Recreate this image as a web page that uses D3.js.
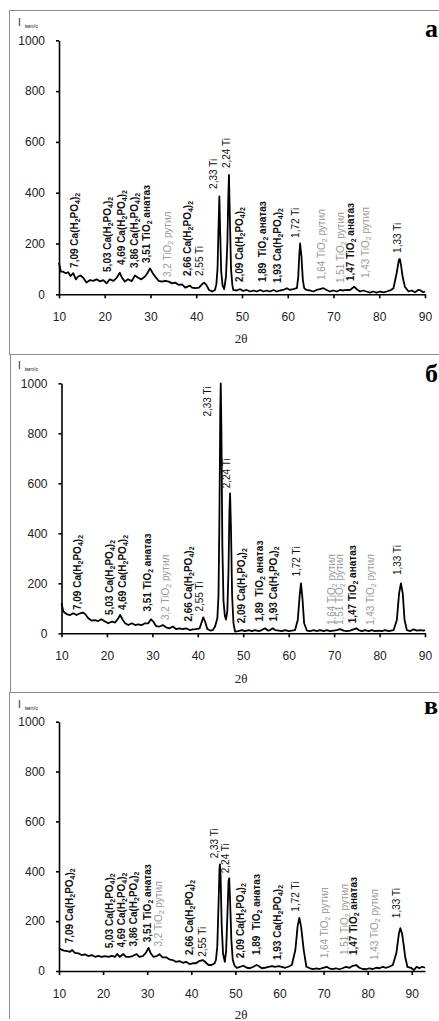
<!DOCTYPE html>
<html><head><meta charset="utf-8">
<script src="https://cdn.jsdelivr.net/npm/d3@7"></script>
<style>body{margin:0;background:#fff;} svg{display:block;}</style>
</head><body><svg id="c" width="439" height="1021"></svg>
<script>
// ---------- DATA ----------
const xTicks = [10, 20, 30, 40, 50, 60, 70, 80, 90];
const yTicks = [0, 200, 400, 600, 800, 1000];
const panelNames = ["а", "б", "в"];
const axisTitle = "2θ";
const yTitle = "I";
const yUnit = "імп/с";

// panel а
const thetaA = [10.0,10.4,10.9,11.5,12.0,12.5,13.1,13.7,14.2,14.7,15.3,16.0,16.8,17.5,18.2,19.0,19.7,20.4,21.1,21.9,22.6,23.3,23.7,24.4,25.1,25.9,26.6,27.3,28.0,28.8,29.3,29.9,30.5,31.0,31.8,32.5,33.2,34.0,34.7,35.4,36.2,36.9,37.6,38.6,39.1,39.8,40.6,41.3,41.7,42.2,42.8,43.5,44.1,44.4,44.65,44.85,45.05,45.25,45.45,45.75,46.1,46.5,46.8,47.0,47.15,47.35,47.6,47.9,48.1,48.8,49.6,50.3,51.0,51.8,52.5,53.2,54.0,54.7,55.4,56.1,56.9,57.6,58.3,59.0,59.8,60.5,61.2,62.0,62.3,62.5,62.7,63.0,63.3,63.6,64.1,64.9,65.6,66.3,67.0,67.8,68.5,69.2,70.0,70.7,71.4,72.1,72.9,73.6,74.5,75.1,75.8,76.5,77.2,78.0,78.7,79.4,80.2,80.9,81.6,82.4,83.1,83.8,84.3,84.5,84.8,85.1,85.6,86.4,87.1,87.8,88.5,89.0,89.6,90.0];
const intA = [124,89,89,83,87,72,83,59,70,74,65,46,56,53,59,51,56,43,59,53,65,85,67,50,59,52,74,65,59,70,83,102,83,70,53,50,53,50,43,46,37,39,26,34,26,24,26,40,46,37,17,11,17,40,100,250,385,230,90,35,20,70,200,380,470,300,100,35,17,15,20,13,17,11,15,11,17,11,15,11,17,11,15,17,24,17,20,24,70,148,200,148,56,24,17,15,11,17,20,24,17,11,15,11,17,15,17,17,30,20,11,15,11,7,11,7,11,8,11,15,24,83,136,139,110,70,30,11,15,8,17,15,8,11];
const labelsA = ["7,09 Ca(H_2PO_4)_2","5,03 Ca(H_2PO_4)_2","4,69 Ca(H_2PO_4)_2","3,86 Ca(H_2PO_4)_2","3,51 TiO_2 анатаз","3,2 TiO_2 рутил","2,66 Ca(H_2PO_4)_2","2,55 Ti","2,33 Ti","2,24 Ti","2,09 Ca(H_2PO_4)_2","1,89  TiO_2 анатаз","1,93 Ca(H_2PO_4)_2","1,72 Ti","1,64 TiO_2 рутил","1,51 TiO_2 рутил","1,47 TiO_2 анатаз","1,43 TiO_2 рутил","1,33 Ti"];
const labelThetaA = [14.2,21.4,24.4,27.3,29.9,34.5,38.9,41.5,44.5,47.3,50.2,55.2,58.5,62.5,68.1,72.3,74.5,77.8,84.8];
const labelIntA = [104,88,115,104,123,68,72,72,415,497,48,48,44,222,56,44,52,64,163];

// panel б
const thetaB = [10.0,10.4,11.1,11.9,12.6,13.3,14.1,14.7,15.2,15.9,16.6,17.4,18.1,18.8,19.6,20.3,21.1,21.8,22.5,22.9,23.5,24.0,24.7,25.5,26.2,26.9,27.7,28.4,29.1,29.7,30.2,30.8,31.6,32.3,33.0,33.8,34.5,35.2,36.0,36.7,37.4,38.2,38.9,39.6,40.4,40.9,41.2,41.6,42.1,42.7,43.3,43.8,44.3,44.55,44.75,44.95,45.05,45.2,45.4,45.65,45.95,46.2,46.5,46.75,46.95,47.1,47.3,47.55,47.85,48.2,48.9,49.7,50.4,51.2,51.9,52.6,53.4,54.1,54.8,55.4,55.9,56.5,57.0,57.8,58.5,59.2,60.0,60.7,61.4,62.0,62.4,62.7,63.0,63.4,64.0,64.7,65.5,66.2,66.9,67.7,68.4,69.1,69.9,70.6,71.3,72.1,72.8,73.5,74.3,74.9,75.4,76.1,76.8,77.6,78.3,79.0,79.8,80.5,81.2,82.0,83.1,83.8,84.3,84.7,85.1,85.5,86.0,86.8,87.5,88.2,89.0,89.7,90.0];
const intB = [120,87,77,73,80,73,80,83,77,60,51,53,49,56,47,40,47,43,60,73,53,40,33,40,33,36,33,40,40,56,47,29,27,33,24,20,27,17,20,17,20,13,16,17,20,47,64,47,17,11,13,27,60,150,450,900,1000,800,350,130,70,55,90,250,480,560,420,150,40,7,9,13,9,13,9,13,9,13,20,11,13,20,13,11,9,13,9,11,13,53,147,200,147,40,11,9,13,9,13,9,13,9,11,13,17,11,9,11,16,20,13,9,13,9,13,9,11,9,13,9,13,53,160,200,160,53,13,9,16,11,13,11,13];
const labelsB = ["7,09 Ca(H_2PO_4)_2","5,03 Ca(H_2PO_4)_2","4,69 Ca(H_2PO_4)_2","3,51 TiO_2 анатаз","3,2 TiO_2 рутил","2,66 Ca(H_2PO_4)_2","2,55 Ti","2,33 Ti","2,24 Ti","2,09 Ca(H_2PO_4)_2","1,89  TiO_2 анатаз","1,93 Ca(H_2PO_4)_2","1,72 Ti","1,64 TiO_2 рутил","1,51 TiO_2 рутил","1,47 TiO_2 анатаз","1,43 TiO_2 рутил","1,33 Ti"];
const labelThetaB = [14.3,21.4,24.2,29.6,33.7,38.7,41.2,42.9,47.1,50.3,54.3,57.4,62.4,70.1,71.9,74.9,78.8,84.8];
const labelIntB = [93,73,93,87,53,47,87,867,580,40,47,47,227,33,33,40,33,233];

// panel в
const thetaC = [10.0,10.4,11.1,11.9,12.5,13.0,13.6,14.4,15.1,15.9,16.6,17.4,18.2,18.9,19.7,20.4,21.2,22.0,22.7,23.2,23.8,24.6,25.2,25.9,26.7,27.6,28.2,29.0,29.7,30.3,30.8,31.4,32.2,32.8,33.5,34.3,35.0,35.8,36.5,37.3,38.1,38.8,39.6,40.3,41.1,41.8,42.6,43.1,43.9,44.6,45.3,45.6,45.9,46.2,46.4,46.5,46.65,46.9,47.2,47.6,47.9,48.2,48.45,48.6,48.8,49.1,49.4,49.8,50.3,51.1,51.8,52.6,53.3,54.1,54.8,55.2,56.0,56.7,57.5,58.3,59.0,59.8,60.5,61.3,62.0,62.8,63.6,64.1,64.5,64.9,65.5,66.1,66.9,67.6,68.4,69.1,69.9,70.7,71.3,72.0,72.8,73.6,74.3,75.1,75.9,76.6,77.4,78.1,78.9,79.7,80.4,81.2,81.9,82.7,83.4,84.2,84.9,85.7,86.5,87.1,87.4,87.8,88.2,88.5,89.0,89.8,90.5,91.1,91.7,92.4,93.0];
const intC = [91,87,82,80,77,84,73,71,64,67,60,64,57,61,57,60,57,61,57,68,57,68,57,57,60,68,57,60,73,93,71,57,60,67,55,55,47,44,37,40,33,37,28,31,31,40,44,37,24,24,31,45,100,280,410,428,380,180,70,37,80,230,360,372,280,120,45,22,13,17,21,13,11,17,24,21,11,13,17,20,17,20,17,13,17,24,84,178,213,178,84,17,11,8,11,8,13,17,11,8,11,7,11,17,13,21,24,13,8,7,11,8,13,11,17,13,17,24,71,152,172,150,100,57,17,13,4,17,11,17,13];
const labelsC = ["7,09 Ca(H_2PO_4)_2","5,03 Ca(H_2PO_4)_2","4,69 Ca(H_2PO_4)_2","3,86 Ca(H_2PO_4)_2","3,51 TiO_2 анатаз","3,2 TiO_2 рутил","2,66 Ca(H_2PO_4)_2","2,55 Ti","2,33 Ti","2,24 Ti","2,09 Ca(H_2PO_4)_2","1,89  TiO_2 анатаз","1,93 Ca(H_2PO_4)_2","1,72 Ti","1,64 TiO_2 рутил","1,51 TiO_2 рутил","1,47 TiO_2 анатаз","1,43 TiO_2 рутил","1,33 Ti"];
const labelThetaC = [13.2,22.3,25.0,27.8,30.8,33.4,40.5,43.3,46.1,48.6,52.0,55.6,60.3,64.5,71.1,75.5,77.6,82.3,87.3];
const labelIntC = [111,91,94,98,115,98,64,57,452,392,51,64,44,238,51,64,64,44,212];

// ---------- LAYOUT ----------
const panels = [
  {theta: thetaA, inten: intA, labels: labelsA, lt: labelThetaA, li: labelIntA,
   xDom: [10, 90], xR: [59, 425], yR: [294.3, 40.3], boxTop: 10, boxLeft: 9.5, boxBottom: 354,
   titleY: 343, letterY: 37, name: panelNames[0]},
  {theta: thetaB, inten: intB, labels: labelsB, lt: labelThetaB, li: labelIntB,
   xDom: [10, 90], xR: [61.5, 425], yR: [633.3, 383.3], boxTop: 354, boxLeft: 10.5, boxBottom: 692,
   titleY: 683, letterY: 382, name: panelNames[1]},
  {theta: thetaC, inten: intC, labels: labelsC, lt: labelThetaC, li: labelIntC,
   xDom: [10, 93], xR: [59, 425], yR: [971, 721.7], boxTop: 692, boxLeft: 9.5, boxBottom: 1019,
   titleY: 1019, letterY: 714, name: panelNames[2]}
];

const svg = d3.select("#c");
const SANS = "'Liberation Sans', Arial, sans-serif";
const SERIF = "'Liberation Serif', 'Times New Roman', serif";

function richText(sel, str) {
  const parts = str.split(/(_.)/).filter(s => s.length);
  let shifted = false;
  parts.forEach(p => {
    if (p[0] === "_") {
      sel.append("tspan").attr("font-size", "70%").attr("dy", shifted ? 0 : 2).text(p[1]);
      shifted = true;
    } else {
      sel.append("tspan").attr("dy", shifted ? -2 : 0).attr("xml:space","preserve").text(p);
      shifted = false;
    }
  });
}

panels.forEach(p => {
  const g = svg.append("g");
  // frame lines
  g.append("line").attr("x1", 9).attr("x2", 439).attr("y1", p.boxTop + 0.5).attr("y2", p.boxTop + 0.5)
    .attr("stroke", "#8a8a8a").attr("stroke-width", 1);
  g.append("line").attr("x1", p.boxLeft).attr("x2", p.boxLeft).attr("y1", p.boxTop).attr("y2", p.boxBottom)
    .attr("stroke", "#8a8a8a").attr("stroke-width", 1);

  const x = d3.scaleLinear().domain(p.xDom).range(p.xR);
  const y = d3.scaleLinear().domain([0, 1000]).range(p.yR);

  // axes
  const xa = g.append("g").attr("transform", `translate(0,${p.yR[0]})`)
    .call(d3.axisBottom(x).tickValues(xTicks).tickFormat(d3.format("d")).tickSize(4).tickSizeOuter(0).tickPadding(14));
  const ya = g.append("g").attr("transform", `translate(${p.xR[0]},0)`)
    .call(d3.axisLeft(y).tickValues(yTicks).tickFormat(d3.format("d")).tickSize(3).tickSizeOuter(0).tickPadding(11));
  [xa, ya].forEach(a => {
    a.selectAll("path, line").attr("stroke", "#000").attr("stroke-width", 1.6);
    a.selectAll("text").attr("font-family", SANS).attr("font-size", 12).attr("fill", "#222");
  });

  // curve
  const pts = p.theta.map((t, i) => [t, p.inten[i]]);
  g.append("path").datum(pts)
    .attr("d", d3.line().x(d => x(d[0])).y(d => y(d[1])))
    .attr("fill", "none").attr("stroke", "#000").attr("stroke-width", 1.8).attr("stroke-linejoin", "round");

  // peak labels
  p.labels.forEach((s, i) => {
    const rutile = s.includes("рутил");
    const tiOnly = / Ti$/.test(s);
    const t = g.append("text")
      .attr("transform", `translate(${x(p.lt[i])},${y(p.li[i])}) rotate(-90)`)
      .attr("dy", "0.33em")
      .attr("font-family", SANS).attr("font-size", 10)
      .attr("font-weight", (rutile || tiOnly) ? "normal" : "bold")
      .attr("fill", rutile ? "#9a9a9a" : "#111");
    richText(t, s);
  });

  // y title
  const yt = g.append("text").attr("x", 18).attr("y", p.yR[1] - 14)
    .attr("font-family", SANS).attr("font-size", 10).attr("fill", "#222");
  yt.append("tspan").text(yTitle);
  yt.append("tspan").attr("dx", 4).attr("dy", 2).attr("font-size", 6).text(yUnit);

  // x title
  g.append("text").attr("x", 241).attr("y", p.titleY).attr("text-anchor", "middle")
    .attr("font-family", SERIF).attr("font-size", 13).attr("fill", "#222").text(axisTitle);

  // panel letter
  g.append("text").attr("x", 438).attr("y", p.letterY).attr("text-anchor", "end")
    .attr("font-family", SERIF).attr("font-weight", "bold").attr("font-size", 26).attr("fill", "#000").text(p.name);
});
</script>
</body></html>
